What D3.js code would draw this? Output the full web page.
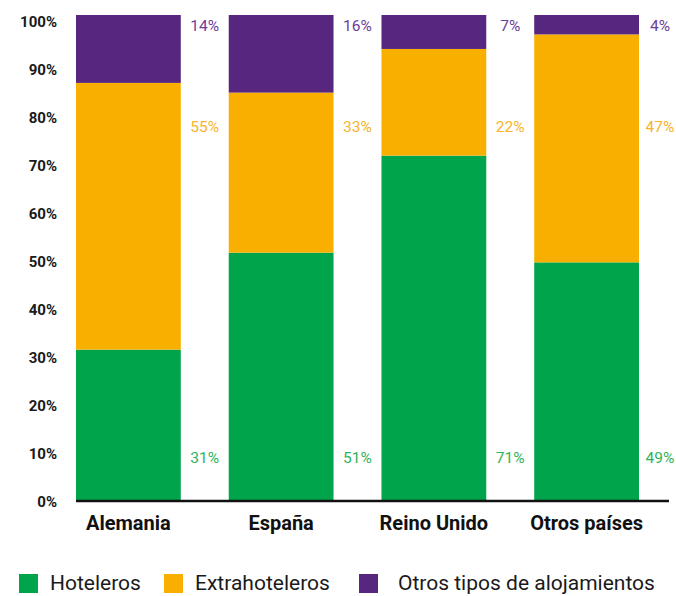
<!DOCTYPE html>
<html>
<head>
<meta charset="utf-8">
<script src="https://cdn.jsdelivr.net/npm/d3@7"></script>
<style>
  body { margin: 0; background: #fff; }
  text { font-family: Roboto, sans-serif; }
</style>
</head>
<body>
<div id="chart"></div>
<script>
const countries = ["Alemania", "España", "Reino Unido", "Otros países"]
const hoteleros = [31, 51, 71, 49]
const extrahoteleros = [55, 33, 22, 47]
const otros = [14, 16, 7, 4]
const seriesNames = ["Hoteleros", "Extrahoteleros", "Otros tipos de alojamientos"]
const barColors = ["#00a44a", "#f9af00", "#57267e"]
const labelColors = ["#2fb35a", "#f8b32a", "#6a3d9a"]
const ticks = [0, 10, 20, 30, 40, 50, 60, 70, 80, 90, 100]

const width = 676, height = 596

const rows = countries.map((c, i) => ({
    country: c,
    Hoteleros: hoteleros[i],
    Extrahoteleros: extrahoteleros[i],
    "Otros tipos de alojamientos": otros[i]
}))
const stacked = d3.stack().keys(seriesNames)(rows)

const svg = d3.select("#chart")
    .append("svg")
    .attr("width", width)
    .attr("height", height)

const x = d3.scaleBand().domain(countries).range([76, 639]).paddingInner(0.314).paddingOuter(0)
const y = d3.scaleLinear().domain([0, 100]).range([500, 15])
// tick labels sit a touch lower than the bar scale
const yTick = d3.scaleLinear().domain([0, 100]).range([502, 22])

// bars
svg.selectAll(".layer")
    .data(stacked)
    .enter().append("g")
    .attr("fill", (d, i) => barColors[i])
    .selectAll("rect")
    .data(d => d)
    .enter().append("rect")
    .attr("x", d => x(d.data.country))
    .attr("width", x.bandwidth())
    .attr("y", d => y(d[1]))
    .attr("height", d => y(d[0]) - y(d[1]))

// y tick labels
svg.append("g")
    .selectAll("text")
    .data(ticks)
    .enter().append("text")
    .attr("x", 57)
    .attr("y", d => yTick(d))
    .attr("dy", "0.35em")
    .attr("text-anchor", "end")
    .attr("font-size", 15)
    .attr("font-weight", "bold")
    .attr("fill", "#1a1a1a")
    .text(d => d + "%")

// baseline
svg.append("line")
    .attr("x1", 76).attr("x2", 669)
    .attr("y1", 501).attr("y2", 501)
    .attr("stroke", "#111")
    .attr("stroke-width", 2.5)

// x labels
svg.append("g")
    .selectAll("text")
    .data(countries)
    .enter().append("text")
    .attr("x", d => x(d) + x.bandwidth() / 2)
    .attr("y", 530)
    .attr("text-anchor", "middle")
    .attr("font-size", 20)
    .attr("font-weight", "bold")
    .attr("fill", "#111")
    .text(d => d)

// value labels beside bars
const labelY = [458, 127, 26]
const gap = x.step() - x.bandwidth()
stacked.forEach((layer, si) => {
    svg.append("g")
        .selectAll("text")
        .data(layer)
        .enter().append("text")
        .attr("x", (d, i) => x(d.data.country) + x.bandwidth() + gap / 2 - (i === 3 ? 3 : 0))
        .attr("y", labelY[si])
        .attr("dy", "0.35em")
        .attr("text-anchor", "middle")
        .attr("font-size", 15.5)
        .attr("fill", labelColors[si])
        .text(d => (d[1] - d[0]) + "%")
})

// legend
const legendX = [19, 164, 359]
const legend = svg.append("g")
    .selectAll("g")
    .data(seriesNames)
    .enter().append("g")
    .attr("transform", (d, i) => `translate(${legendX[i]},574)`)
legend.append("rect")
    .attr("width", 19).attr("height", 19)
    .attr("fill", (d, i) => barColors[i])
legend.append("text")
    .attr("x", (d, i) => i === 2 ? 39 : 31)
    .attr("y", 16)
    .attr("font-size", 21)
    .attr("fill", "#1a1a1a")
    .text(d => d)
</script>
</body>
</html>
